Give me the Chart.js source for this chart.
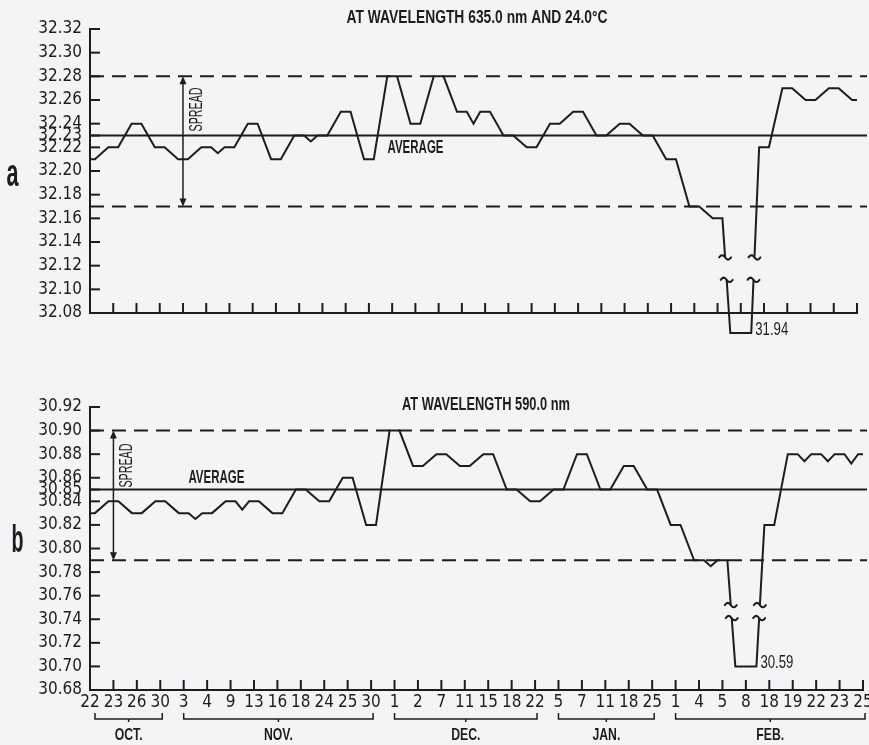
<!DOCTYPE html>
<html>
<head>
<meta charset="utf-8">
<script src="https://cdn.jsdelivr.net/npm/chart.js@4.4.1/dist/chart.umd.min.js"></script>
<style>
  html, body { margin: 0; padding: 0; background: #f4f3f6; }
  #wrap { position: relative; width: 869px; height: 745px; }
  .box { position: absolute; left: 0; width: 869px; }
  #boxA { top: 0; height: 345px; }
  #boxB { top: 345px; height: 400px; }
</style>
</head>
<body>
<div id="wrap">
  <div class="box" id="boxA"><canvas id="chartA"></canvas></div>
  <div class="box" id="boxB"><canvas id="chartB"></canvas></div>
</div>
<script>
// reading dates, one column each
var days = [22, 23, 26, 30, 3, 4, 9, 13, 16, 18, 24, 25, 30, 1, 2, 7, 11, 15, 18, 22, 5, 7, 11, 18, 25, 1, 4, 5, 8, 18, 19, 22, 23, 25];
var months = ['OCT.', 'NOV.', 'DEC.', 'JAN.', 'FEB.'];
var monthCounts = [4, 9, 7, 5, 9];

// a: at 635.0 nm and 24.0 C
var valuesA = [32.21, 32.22, 32.24, 32.22, 32.21, 32.22, 32.22, 32.24, 32.21, 32.23, 32.23, 32.25, 32.21,
               32.28, 32.24, 32.28, 32.25, 32.25, 32.23, 32.22, 32.24, 32.25, 32.23, 32.24, 32.23,
               32.21, 32.17, 32.16, 31.94, 32.22, 32.27, 32.26, 32.27, 32.26];
var dipsA = [[5.5, 32.215], [9.5, 32.225], [16.5, 32.24]];
var ticksA = [32.32, 32.30, 32.28, 32.26, 32.24, 32.23, 32.22, 32.20, 32.18, 32.16, 32.14, 32.12, 32.10, 32.08];
var averageA = 32.23, highA = 32.28, lowA = 32.17;

// b: at 590.0 nm
var valuesB = [30.83, 30.84, 30.83, 30.84, 30.83, 30.83, 30.84, 30.84, 30.83, 30.85, 30.84, 30.86, 30.82,
               30.90, 30.87, 30.88, 30.87, 30.88, 30.85, 30.84, 30.85, 30.88, 30.85, 30.87, 30.85,
               30.82, 30.79, 30.79, 30.59, 30.82, 30.88, 30.88, 30.88, 30.88];
var dipsB = [[4.5, 30.825], [6.5, 30.833], [26.5, 30.785], [30.5, 30.874], [31.5, 30.874], [32.5, 30.872]];
var ticksB = [30.92, 30.90, 30.88, 30.86, 30.85, 30.84, 30.82, 30.80, 30.78, 30.76, 30.74, 30.72, 30.70, 30.68];
var averageB = 30.85, highB = 30.90, lowB = 30.79;

var INK = '#1d1d1f';
var BG = '#f4f3f6';
var NARROW = "'Liberation Sans Narrow', 'DejaVu Sans Condensed', 'Liberation Sans', sans-serif";
var PLAIN = "'Liberation Sans', 'DejaVu Sans', sans-serif";

// each reading is a short flat step; off-scale readings are drawn at the broken-axis floor
function buildPoints(values, dips, cutoff, floor) {
    var pts = [];
    var last = values.length - 1;
    values.forEach(function (v, i) {
        var broken = v < cutoff;
        var hw = broken ? 0.45 : 0.21;
        var y = broken ? floor : v;
        pts.push({x: Math.max(0, i - hw), y: y});
        pts.push({x: Math.min(last, i + hw), y: y});
    });
    dips.forEach(function (d) { pts.push({x: d[0], y: d[1]}); });
    pts.sort(function (a, b) { return a.x - b.x; });
    return pts;
}

function hline(ctx, x1, x2, y) {
    ctx.beginPath(); ctx.moveTo(x1, y); ctx.lineTo(x2, y); ctx.stroke();
}

function fitText(ctx, s, x, y, font, w, align, rot) {
    ctx.save();
    ctx.font = font;
    var sx = w / ctx.measureText(s).width;
    ctx.translate(x, y);
    if (rot) ctx.rotate(rot);
    ctx.scale(sx, 1);
    ctx.fillStyle = INK;
    ctx.textAlign = align;
    ctx.textBaseline = 'alphabetic';
    ctx.fillText(s, 0, 0);
    ctx.restore();
}

function tilde(ctx, x, y) {
    ctx.beginPath();
    for (var t = -6; t <= 6; t++) {
        var yy = y - 2.2 * Math.sin((t + 6) / 12 * 2 * Math.PI);
        if (t === -6) ctx.moveTo(x + t, yy); else ctx.lineTo(x + t, yy);
    }
    ctx.stroke();
}

function figurePlugin(cfg) {
    return {
        id: 'figure',
        beforeDatasetsDraw: function (chart) {
            var ctx = chart.ctx, a = chart.chartArea, ys = chart.scales.y;
            ctx.save();
            ctx.strokeStyle = INK;
            ctx.lineWidth = 2;
            ctx.setLineDash([14, 8]);
            hline(ctx, a.left, chart.width - 2, ys.getPixelForValue(cfg.high));
            hline(ctx, a.left, chart.width - 2, ys.getPixelForValue(cfg.low));
            ctx.setLineDash([]);
            hline(ctx, a.left, chart.width - 2, ys.getPixelForValue(cfg.average));
            ctx.restore();
        },
        afterDatasetsDraw: function (chart) {
            // axis break on the steep drop and rise
            var ctx = chart.ctx, ys = chart.scales.y;
            var top = ys.getPixelForValue(cfg.band[1]), bot = ys.getPixelForValue(cfg.band[0]);
            var pts = chart.getDatasetMeta(0).data;
            ctx.save();
            ctx.strokeStyle = INK;
            ctx.lineWidth = 2;
            ctx.lineCap = 'round';
            for (var k = 1; k < pts.length; k++) {
                var p = pts[k - 1], q = pts[k];
                if (Math.min(p.y, q.y) < top && Math.max(p.y, q.y) > bot) {
                    var xt = p.x + (q.x - p.x) * (top - p.y) / (q.y - p.y);
                    var xb = p.x + (q.x - p.x) * (bot - p.y) / (q.y - p.y);
                    ctx.fillStyle = BG;
                    ctx.fillRect(Math.min(xt, xb) - 5, top, Math.abs(xb - xt) + 10, bot - top);
                    tilde(ctx, xt, top);
                    tilde(ctx, xb, bot);
                }
            }
            // off-scale reading label
            cfg.values.forEach(function (v, i) {
                if (v < cfg.cutoff) {
                    var xr = chart.scales.x.getPixelForValue(i + 0.45);
                    fitText(ctx, v.toFixed(2), xr + 4, ys.getPixelForValue(cfg.floor) + 2,
                        '18px ' + PLAIN, 33, 'left');
                }
            });
            ctx.restore();
        },
        afterDraw: function (chart) {
            var ctx = chart.ctx, a = chart.chartArea, xs = chart.scales.x, ys = chart.scales.y;
            ctx.save();
            ctx.strokeStyle = INK;
            ctx.fillStyle = INK;
            ctx.lineWidth = 2;
            // inward tick marks
            ys.ticks.forEach(function (t) {
                var y = ys.getPixelForValue(t.value);
                hline(ctx, a.left, a.left + 10, y);
            });
            for (var i = 1; i < days.length; i++) {
                var x = xs.getPixelForValue(i);
                ctx.beginPath(); ctx.moveTo(x, a.bottom); ctx.lineTo(x, a.bottom - 10); ctx.stroke();
            }
            // spread arrow
            var ax = xs.getPixelForValue(cfg.spreadAt);
            var y1 = ys.getPixelForValue(cfg.high), y2 = ys.getPixelForValue(cfg.low);
            ctx.lineWidth = 1.5;
            ctx.beginPath(); ctx.moveTo(ax, y1 + 3); ctx.lineTo(ax, y2 - 3); ctx.stroke();
            ctx.beginPath(); ctx.moveTo(ax, y1); ctx.lineTo(ax - 3.5, y1 + 8); ctx.lineTo(ax + 3.5, y1 + 8); ctx.fill();
            ctx.beginPath(); ctx.moveTo(ax, y2); ctx.lineTo(ax - 3.5, y2 - 8); ctx.lineTo(ax + 3.5, y2 - 8); ctx.fill();
            var ya = ys.getPixelForValue(cfg.average);
            fitText(ctx, 'SPREAD', ax + 19, ya - cfg.spreadGap, '19px ' + PLAIN, 44, 'left', -Math.PI / 2);
            // average label
            fitText(ctx, 'AVERAGE', xs.getPixelForValue(cfg.averageAt), ya + cfg.averageDy,
                'bold 18px ' + PLAIN, 56, 'left');
            // title and panel letter
            fitText(ctx, cfg.title, cfg.titleX, cfg.titleY, 'bold 18px ' + PLAIN, cfg.titleW, 'center');
            fitText(ctx, cfg.panel, cfg.panelX, cfg.panelY, 'bold 38px ' + PLAIN, 12, 'center');
            // month brackets
            if (cfg.showDays) {
                var start = 0;
                ctx.lineWidth = 1.5;
                months.forEach(function (m, k) {
                    var end = start + monthCounts[k] - 1;
                    var x1 = Math.max(xs.getPixelForValue(start), a.left + 5);
                    var x2 = xs.getPixelForValue(end) + 2;
                    var yb = a.bottom + 29;
                    ctx.beginPath();
                    ctx.moveTo(x1, yb - 6); ctx.lineTo(x1, yb); ctx.lineTo(x2, yb); ctx.lineTo(x2, yb - 6);
                    ctx.moveTo((x1 + x2) / 2, yb); ctx.lineTo((x1 + x2) / 2, yb + 3);
                    ctx.stroke();
                    ctx.font = 'bold 17px ' + PLAIN;
                    var w = ctx.measureText(m).width * 0.72;
                    fitText(ctx, m, (x1 + x2) / 2, a.bottom + 50, 'bold 17px ' + PLAIN, w, 'center');
                    start = end + 1;
                });
            }
            ctx.restore();
        }
    };
}

function makeChart(id, cfg) {
    return new Chart(document.getElementById(id), {
        type: 'line',
        data: {
            datasets: [{
                data: buildPoints(cfg.values, cfg.dips, cfg.cutoff, cfg.floor),
                borderColor: INK,
                borderWidth: 2,
                pointRadius: 0,
                tension: 0,
                fill: false,
                clip: false
            }]
        },
        options: {
            responsive: true,
            maintainAspectRatio: false,
            animation: false,
            layout: {padding: cfg.padding},
            plugins: {legend: {display: false}, tooltip: {enabled: false}},
            scales: {
                x: {
                    type: 'linear',
                    min: 0,
                    max: days.length - 1,
                    grid: {display: false, drawTicks: false},
                    border: {color: INK, width: 2},
                    ticks: {
                        display: cfg.showDays,
                        stepSize: 1,
                        autoSkip: false,
                        maxRotation: 0,
                        padding: 2,
                        color: INK,
                        font: {family: NARROW, size: 17},
                        callback: function (v) { return days[v]; }
                    },
                    afterFit: function (s) { s.height = cfg.xHeight; s.paddingLeft = 0; s.paddingRight = 0; }
                },
                y: {
                    min: cfg.ticks[cfg.ticks.length - 1],
                    max: cfg.ticks[0],
                    grid: {display: false, drawTicks: false},
                    border: {color: INK, width: 2},
                    ticks: {
                        autoSkip: false,
                        padding: 8,
                        color: INK,
                        font: {family: NARROW, size: 17},
                        callback: function (v) { return v.toFixed(2); }
                    },
                    afterBuildTicks: function (s) {
                        s.ticks = cfg.ticks.map(function (v) { return {value: v}; });
                    },
                    afterFit: function (s) { s.width = 90; }
                }
            }
        },
        plugins: [figurePlugin(cfg)]
    });
}

makeChart('chartA', {
    values: valuesA, dips: dipsA, ticks: ticksA,
    average: averageA, high: highA, low: lowA,
    cutoff: 32.10, floor: 32.063, band: [32.108, 32.127],
    spreadAt: 4, spreadGap: 4, averageAt: 12.8, averageDy: 17,
    title: 'AT WAVELENGTH 635.0 nm AND 24.0\u00b0C', titleX: 477, titleY: 23, titleW: 261,
    panel: 'a', panelX: 12.5, panelY: 186,
    showDays: false, xHeight: 0,
    padding: {left: 0, right: 12, top: 29, bottom: 32}
});

makeChart('chartB', {
    values: valuesB, dips: dipsB, ticks: ticksB,
    average: averageB, high: highB, low: lowB,
    cutoff: 30.68, floor: 30.70, band: [30.741, 30.752],
    spreadAt: 1, spreadGap: 2, averageAt: 4.2, averageDy: -7,
    title: 'AT WAVELENGTH 590.0 nm', titleX: 486, titleY: 65, titleW: 168,
    panel: 'b', panelX: 17.5, panelY: 207,
    showDays: true, xHeight: 55,
    padding: {left: 0, right: 6, top: 62, bottom: 0}
});
</script>
</body>
</html>
